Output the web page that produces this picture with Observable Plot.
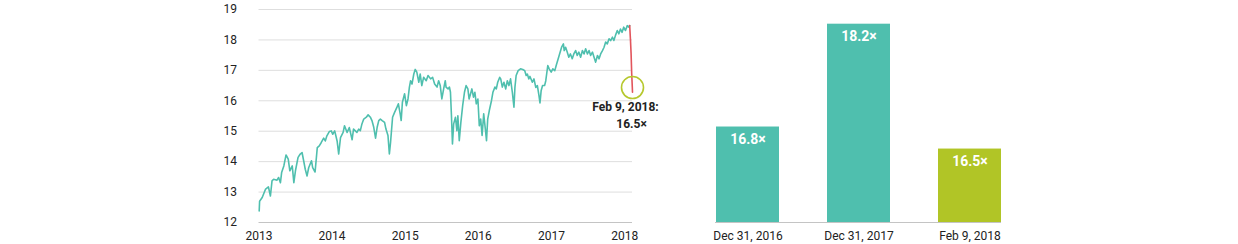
<!DOCTYPE html>
<html>
<head>
<meta charset="utf-8">
<script src="https://cdn.jsdelivr.net/npm/d3@7"></script>
<script src="https://cdn.jsdelivr.net/npm/@observablehq/plot@0.6"></script>
<style>
  html, body { margin: 0; padding: 0; background: #fff; }
  #wrap { display: flex; flex-direction: row; width: 1238px; height: 244px; }
  svg { display: block; }
</style>
</head>
<body>
<div id="wrap"></div>
<script>
// ---- Line series: forward P/E ----
const lineDates = [
  "2013-01-02","2013-01-04","2013-01-17","2013-02-03","2013-02-17","2013-02-27","2013-03-07","2013-03-15",
  "2013-04-01","2013-04-09","2013-04-18","2013-04-24","2013-05-05","2013-05-16","2013-05-27","2013-06-04",
  "2013-06-16","2013-06-24","2013-07-02","2013-07-15","2013-07-26","2013-08-04","2013-08-12","2013-08-20",
  "2013-08-29","2013-09-06","2013-09-20","2013-09-26","2013-10-08","2013-10-19","2013-10-29","2013-11-08",
  "2013-11-20","2013-11-28","2013-12-06","2013-12-18","2013-12-28","2014-01-04","2014-01-14","2014-01-26",
  "2014-02-03","2014-02-12","2014-02-25","2014-03-04","2014-03-17","2014-03-28","2014-04-11","2014-04-18",
  "2014-05-05","2014-05-14","2014-05-22","2014-05-30","2014-06-08","2014-06-21","2014-06-30","2014-07-11",
  "2014-07-19","2014-07-28","2014-08-06","2014-08-14","2014-08-22","2014-08-30","2014-09-08","2014-09-20",
  "2014-09-27","2014-10-07","2014-10-14","2014-10-20","2014-10-30","2014-11-09","2014-11-21","2014-11-28",
  "2014-12-07","2014-12-12","2014-12-18","2014-12-29","2015-01-07","2015-01-15","2015-01-22","2015-01-28",
  "2015-02-04","2015-02-13","2015-02-20","2015-02-28","2015-03-10","2015-03-17","2015-03-25","2015-04-03",
  "2015-04-16","2015-04-25","2015-05-08","2015-05-18","2015-05-28","2015-06-09","2015-06-17","2015-06-25",
  "2015-07-03","2015-07-12","2015-07-20","2015-07-24","2015-08-03","2015-08-10","2015-08-15","2015-08-20",
  "2015-08-25","2015-08-31","2015-09-09","2015-09-16","2015-09-21","2015-09-28","2015-10-06","2015-10-15",
  "2015-10-24","2015-11-01","2015-11-10","2015-11-16","2015-11-30","2015-12-08","2015-12-15","2015-12-22",
  "2015-12-30","2016-01-06","2016-01-13","2016-01-20","2016-01-28","2016-02-06","2016-02-11","2016-02-17",
  "2016-02-25","2016-03-07","2016-03-14","2016-03-24","2016-03-31","2016-04-07","2016-04-17","2016-04-22",
  "2016-04-30","2016-05-08","2016-05-17","2016-05-25","2016-06-02","2016-06-10","2016-06-19","2016-06-27",
  "2016-07-02","2016-07-08","2016-07-18","2016-07-30","2016-08-10","2016-08-20","2016-08-27","2016-09-02",
  "2016-09-09","2016-09-15","2016-09-27","2016-10-05","2016-10-14","2016-10-22","2016-10-30","2016-11-04",
  "2016-11-10","2016-11-17","2016-11-27","2016-12-03","2016-12-13","2016-12-20","2016-12-30","2017-01-07",
  "2017-01-17","2017-01-24","2017-02-03","2017-02-10","2017-02-20","2017-03-01","2017-03-05","2017-03-12",
  "2017-03-20","2017-03-28","2017-04-05","2017-04-14","2017-04-22","2017-05-01","2017-05-09","2017-05-17",
  "2017-05-26","2017-06-04","2017-06-12","2017-06-20","2017-06-29","2017-07-07","2017-07-15","2017-07-24",
  "2017-08-01","2017-08-09","2017-08-18","2017-08-26","2017-09-03","2017-09-12","2017-09-20","2017-09-28",
  "2017-10-06","2017-10-15","2017-10-23","2017-11-01","2017-11-08","2017-11-16","2017-11-25","2017-12-03",
  "2017-12-11","2017-12-19","2017-12-27","2018-01-05","2018-01-14","2018-01-22","2018-01-26"
];
const lineValues = [
  12.38,12.70,12.82,13.10,13.17,12.87,13.37,13.42,
  13.39,13.48,13.31,13.64,13.86,14.22,14.08,13.70,
  13.86,13.31,13.70,14.14,14.25,14.30,14.03,13.75,
  13.53,13.80,14.03,13.80,13.66,14.46,14.52,14.63,
  14.77,14.68,14.85,14.99,15.01,14.90,15.01,14.68,
  14.25,14.79,14.96,15.18,14.96,15.12,14.72,15.07,
  14.96,15.07,15.02,15.24,15.40,15.46,15.54,15.46,
  15.35,15.13,14.77,15.13,15.35,15.40,15.35,15.29,
  15.07,14.86,14.25,14.64,15.46,15.62,15.79,15.90,
  15.57,15.35,15.95,16.23,15.84,16.06,16.45,16.66,
  16.55,16.88,17.03,16.94,16.61,16.88,16.50,16.77,
  16.66,16.83,16.72,16.77,16.55,16.45,16.66,16.50,
  16.06,16.39,16.66,16.45,16.39,16.45,16.28,15.51,
  14.58,15.24,15.46,15.02,15.51,14.69,15.29,15.84,
  16.28,16.50,16.39,16.06,16.39,16.12,16.28,15.90,
  16.06,15.18,15.40,14.86,15.57,15.02,14.69,15.40,
  15.68,16.01,16.28,16.45,16.39,16.61,16.77,16.72,
  16.45,16.61,16.39,16.66,16.50,16.72,16.28,15.79,
  16.45,16.83,16.99,17.05,17.03,16.99,16.83,16.88,
  16.72,16.80,16.61,16.72,16.44,16.50,16.17,15.93,
  16.34,16.50,16.50,16.66,17.16,17.05,16.94,17.05,
  16.99,17.16,17.38,17.54,17.76,17.87,17.65,17.76,
  17.60,17.43,17.54,17.38,17.54,17.65,17.49,17.60,
  17.43,17.65,17.54,17.71,17.54,17.65,17.49,17.60,
  17.43,17.27,17.49,17.38,17.54,17.65,17.76,17.93,
  17.87,18.04,17.98,18.09,17.98,18.15,18.31,18.20,
  18.36,18.25,18.42,18.31,18.47,18.42,18.47
];
// ---- Recent drop (red segment) ----
const dropDates  = ["2018-01-26","2018-01-30","2018-02-02","2018-02-05","2018-02-08","2018-02-09"];
const dropValues = [18.47, 17.98, 17.55, 16.90, 16.45, 16.28];

// ---- Annotation ----
const noteDate  = "2018-02-09";
const noteValue = 16.5;
const noteLine1 = "Feb 9, 2018:";
const noteLine2 = "16.5×";

// ---- Axes ----
const yTicks    = [12, 13, 14, 15, 16, 17, 18, 19];
const yearTicks = ["2013-01-01","2014-01-01","2015-01-01","2016-01-01","2017-01-01","2018-01-01"];
const xDomain   = ["2013-01-01", "2018-02-09"];

// ---- Bars ----
const barLabels = ["Dec 31, 2016", "Dec 31, 2017", "Feb 9, 2018"];
const barValues = [16.8, 18.2, 16.5];
const barText   = ["16.8×", "18.2×", "16.5×"];
const barBase   = 15.5;

const parse = d3.utcParse("%Y-%m-%d");
const line = lineDates.map((d, i) => ({date: parse(d), value: lineValues[i]}));
const drop = dropDates.map((d, i) => ({date: parse(d), value: dropValues[i]}));
const note = [{date: parse(noteDate), value: noteValue}];

const TEAL = "#4fbfae", GREEN = "#b1c526", RED = "#e2555c", CIRCLE = "#b6c82e";
const FONT = "Roboto, 'Noto Sans', sans-serif";

const chart1 = Plot.plot({
  width: 660, height: 244,
  marginLeft: 258.5, marginRight: 28, marginTop: 9, marginBottom: 22,
  style: {fontFamily: FONT, fontSize: "12px", color: "#222", background: "transparent", overflow: "visible"},
  x: {type: "utc", domain: xDomain.map(parse)},
  y: {domain: [12, 19]},
  marks: [
    Plot.ruleY(yTicks.slice(1), {stroke: "#dedede", strokeWidth: 1}),
    Plot.ruleY([12], {stroke: "#c4c4c4", strokeWidth: 1}),
    Plot.axisY({ticks: yTicks, tickFormat: d3.format("d"), tickSize: 0, tickPadding: 22, label: null, fill: "#222"}),
    Plot.axisX({ticks: yearTicks.map(parse), tickFormat: d3.utcFormat("%Y"), tickSize: 0, tickPadding: 9, label: null, fill: "#222"}),
    Plot.line(line, {x: "date", y: "value", stroke: TEAL, strokeWidth: 1.6, strokeLinejoin: "round"}),
    Plot.line(drop, {x: "date", y: "value", stroke: RED, strokeWidth: 1.6}),
    Plot.dot(note, {x: "date", y: "value", r: 11, stroke: CIRCLE, strokeWidth: 1.6, fill: "none", dy: 2}),
    Plot.text(note, {x: "date", y: "value", text: () => noteLine1, dx: -7, dy: 22, textAnchor: "middle",
      fontWeight: "bold", fontSize: 12, letterSpacing: "-0.4px", fill: "#222"}),
    Plot.text(note, {x: "date", y: "value", text: () => noteLine2, dx: -1, dy: 39, textAnchor: "middle",
      fontWeight: "bold", fontSize: 12, letterSpacing: "-0.2px", fill: "#222"})
  ]
});

const bars = barLabels.map((c, i) => ({cat: c, value: barValues[i], text: barText[i], idx: i}));

const chart2 = Plot.plot({
  width: 578, height: 244,
  marginLeft: 55, marginRight: 237, marginTop: 9, marginBottom: 22,
  style: {fontFamily: FONT, fontSize: "12px", color: "#222", background: "transparent", overflow: "visible"},
  x: {domain: barLabels, paddingInner: 0.435, paddingOuter: 0},
  y: {domain: [barBase, 18.4], axis: null},
  marks: [
    Plot.barY(bars, {x: "cat", y1: barBase, y2: "value", fill: d => d.idx === 2 ? GREEN : TEAL}),
    Plot.ruleY([barBase], {stroke: "#c4c4c4", strokeWidth: 1}),
    Plot.axisX({tickSize: 0, tickPadding: 9, label: null, fill: "#222"}),
    Plot.text(bars, {x: "cat", y: "value", text: "text", lineAnchor: "top", dy: 7, fill: "#fff",
      fontWeight: "bold", fontSize: 14})
  ]
});

const wrap = document.getElementById("wrap");
wrap.appendChild(chart1);
wrap.appendChild(chart2);
</script>
</body>
</html>
